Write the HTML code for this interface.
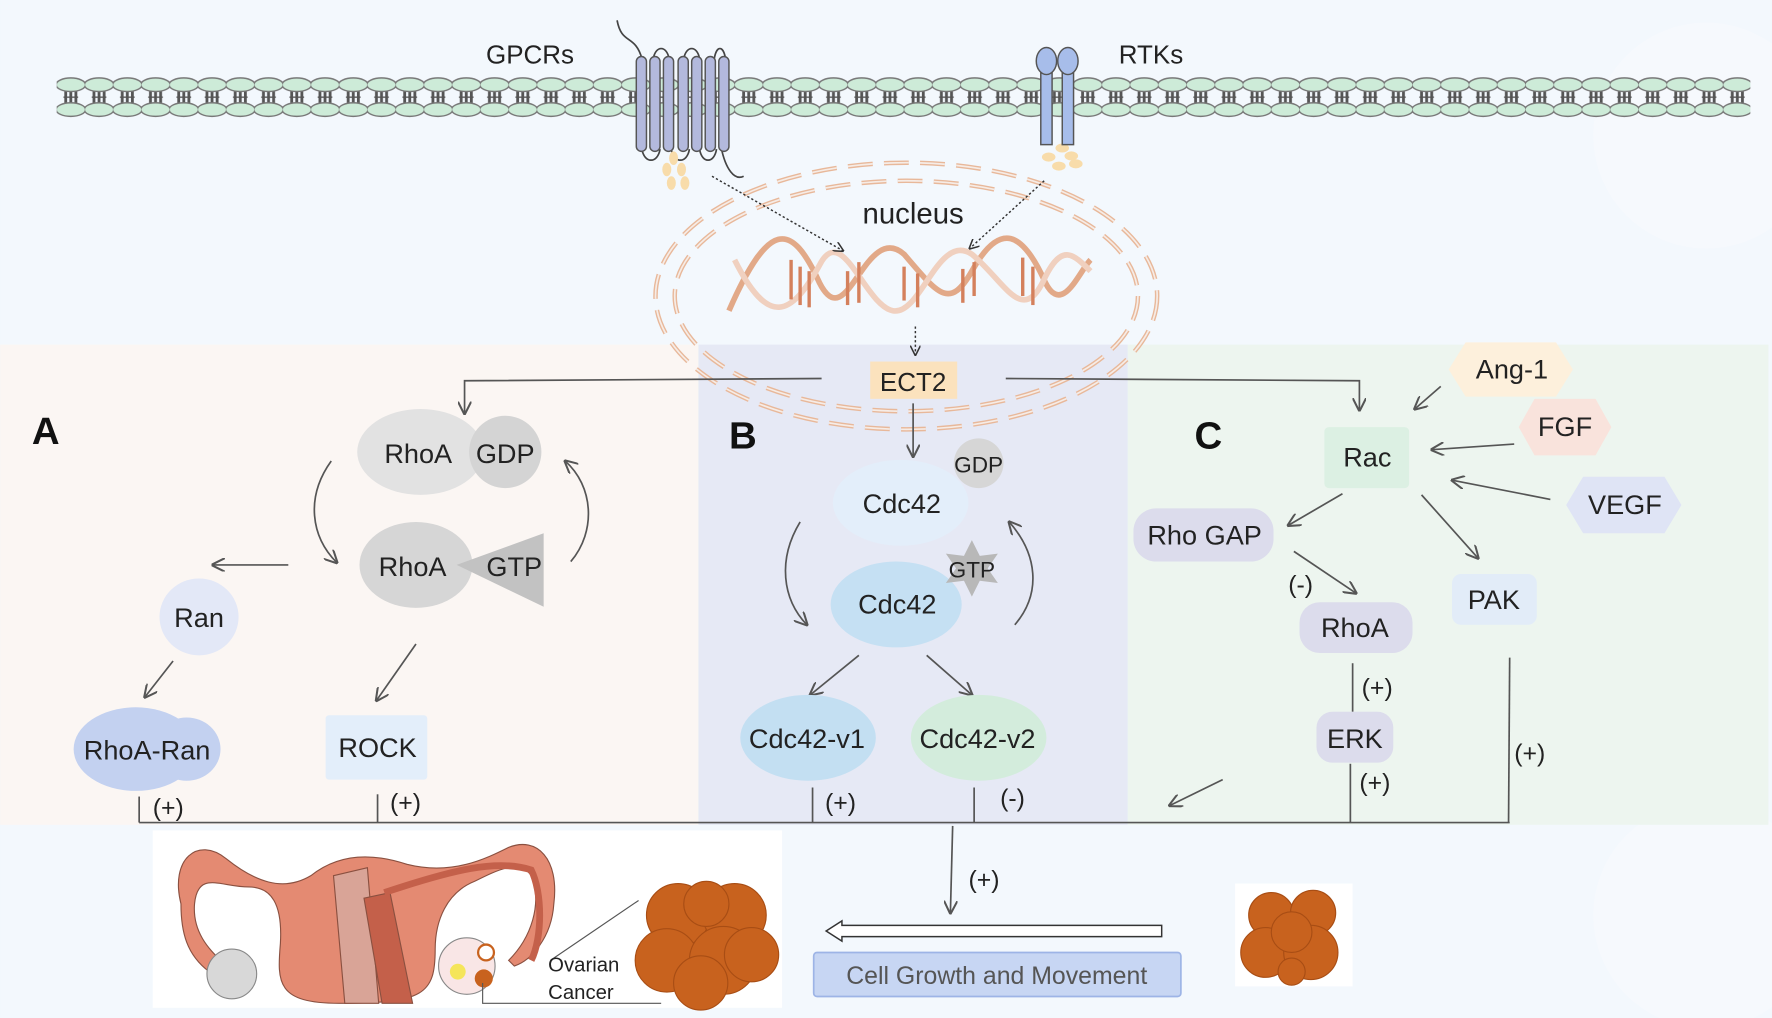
<!DOCTYPE html>
<html><head><meta charset="utf-8"><style>html,body{margin:0;padding:0;background:#f3f8fd}svg{display:block}text{font-family:"Liberation Sans",sans-serif}</style></head><body>
<svg width="1772" height="1018" viewBox="0 0 1568 901" xmlns="http://www.w3.org/2000/svg">
<defs>
<marker id="ar" viewBox="0 0 10 10" refX="9" refY="5" markerWidth="8" markerHeight="8" orient="auto-start-reverse"><path d="M0,0 L10,5 L0,10" fill="none" stroke="#555" stroke-width="1.5"/></marker>
<marker id="ad" viewBox="0 0 10 10" refX="9" refY="5" markerWidth="7" markerHeight="7" orient="auto"><path d="M0,0 L10,5 L0,10" fill="none" stroke="#333" stroke-width="1.5"/></marker>
<pattern id="mem" x="50" y="62" width="25" height="46" patternUnits="userSpaceOnUse">
<line x1="8" y1="18" x2="8" y2="30" stroke="#555" stroke-width="2.5"/><line x1="12.5" y1="18" x2="12.5" y2="30" stroke="#555" stroke-width="2.5"/><line x1="17" y1="18" x2="17" y2="30" stroke="#555" stroke-width="2.5"/>
<line x1="6" y1="24" x2="19" y2="24" stroke="#555" stroke-width="1.2"/>
<ellipse cx="12.5" cy="13" rx="13" ry="6" fill="#cdebd8" stroke="#777" stroke-width="1.3"/>
<ellipse cx="12.5" cy="35" rx="13" ry="6" fill="#cdebd8" stroke="#777" stroke-width="1.3"/>
</pattern>
</defs>
<rect width="1568" height="901" fill="#f3f8fd"/>
<circle cx="1510" cy="120" r="100" fill="#f6f9fd"/>
<circle cx="1510" cy="810" r="100" fill="#f6f9fd"/>
<rect x="0" y="305" width="618" height="425" fill="#fbf6f3"/>
<rect x="618" y="305" width="380" height="425" fill="#e6e9f5"/>
<rect x="998" y="305" width="567" height="425" fill="#edf5ef"/>
<!-- membrane -->
<rect x="50" y="62" width="1499" height="46" fill="url(#mem)"/>
<!-- GPCR -->
<path d="M546,18 C550,40 562,30 568,52" fill="none" stroke="#444" stroke-width="1.5"/>
<g fill="none" stroke="#444" stroke-width="1.5">
<path d="M578,52 C580,40 590,40 592,52"/><path d="M605,52 C607,40 617,40 619,52"/><path d="M632,52 C634,40 640,40 642,52"/>
<path d="M568,132 C570,145 582,145 584,132"/><path d="M594,132 C596,145 608,145 610,132"/><path d="M619,132 C621,145 632,145 634,132"/>
<path d="M638,130 C642,150 650,160 658,156"/>
</g>
<g fill="#b3b9dd" stroke="#555" stroke-width="1.3">
<rect x="563" y="50" width="9" height="84" rx="4.5"/><rect x="575" y="50" width="9" height="84" rx="4.5"/><rect x="587" y="50" width="9" height="84" rx="4.5"/><rect x="600" y="50" width="9" height="84" rx="4.5"/><rect x="612" y="50" width="9" height="84" rx="4.5"/><rect x="624" y="50" width="9" height="84" rx="4.5"/><rect x="636" y="50" width="9" height="84" rx="4.5"/>
</g>
<g fill="#f8dcaa"><ellipse cx="596" cy="140" rx="4" ry="6"/><ellipse cx="590" cy="150" rx="4" ry="6"/><ellipse cx="603" cy="150" rx="4" ry="6"/><ellipse cx="594" cy="162" rx="4" ry="6"/><ellipse cx="606" cy="162" rx="4" ry="6"/>
<ellipse cx="940" cy="131" rx="6" ry="4"/><ellipse cx="928" cy="139" rx="6" ry="4"/><ellipse cx="948" cy="138" rx="6" ry="4"/><ellipse cx="937" cy="147" rx="6" ry="4"/><ellipse cx="952" cy="145" rx="6" ry="4"/></g>
<!-- RTK -->
<g fill="#a7bdea" stroke="#555" stroke-width="1.3">
<rect x="921" y="58" width="10" height="70"/><rect x="940" y="58" width="10" height="70"/>
<ellipse cx="926" cy="54" rx="9" ry="12"/><ellipse cx="945" cy="54" rx="9" ry="12"/>
</g>
<text x="430" y="56" font-size="23" fill="#222">GPCRs</text>
<text x="990" y="56" font-size="23" fill="#222">RTKs</text>
<!-- nucleus -->
<g fill="none" stroke="#e8b89a" stroke-width="4" stroke-dasharray="22,10">
<ellipse cx="802" cy="262" rx="222" ry="118"/>
<ellipse cx="802" cy="262" rx="205" ry="102"/>
</g>
<g fill="none" stroke="#f6ece6" stroke-width="1.5" stroke-dasharray="22,10">
<ellipse cx="802" cy="262" rx="222" ry="118"/>
<ellipse cx="802" cy="262" rx="205" ry="102"/>
</g>
<text x="808" y="198" font-size="26" fill="#222" text-anchor="middle">nucleus</text>
<!-- DNA -->
<path d="M645,275 C680,195 700,195 725,250 C750,300 765,195 800,225 C830,260 840,275 860,240 C885,195 905,205 925,250 C940,280 955,240 965,230" fill="none" stroke="#e2a988" stroke-width="5"/>
<path d="M650,230 C680,290 700,280 725,235 C745,195 765,270 790,275 C815,280 830,205 860,225 C890,250 905,290 925,245 C940,215 950,225 965,240" fill="none" stroke="#f0d0bf" stroke-width="5"/>
<g stroke="#d4805c" stroke-width="3">
<line x1="700" y1="230" x2="700" y2="265"/><line x1="708" y1="236" x2="708" y2="270"/><line x1="716" y1="240" x2="716" y2="272"/><line x1="750" y1="240" x2="750" y2="270"/><line x1="760" y1="232" x2="760" y2="268"/><line x1="800" y1="236" x2="800" y2="266"/><line x1="812" y1="242" x2="812" y2="272"/><line x1="852" y1="238" x2="852" y2="268"/><line x1="862" y1="232" x2="862" y2="262"/><line x1="905" y1="228" x2="905" y2="262"/><line x1="914" y1="236" x2="914" y2="270"/>
</g>
<g stroke="#333" stroke-width="1.3" stroke-dasharray="2,2" fill="none">
<line x1="630" y1="156" x2="746" y2="222" marker-end="url(#ad)"/>
<line x1="924" y1="160" x2="858" y2="220" marker-end="url(#ad)"/>
<line x1="810" y1="289" x2="810" y2="314" marker-end="url(#ad)"/>
</g>
<!-- ECT2 -->
<rect x="770" y="320" width="77" height="33" fill="#fbe2bd"/>
<text x="808" y="346" font-size="23" text-anchor="middle" fill="#222">ECT2</text>
<g stroke="#555" stroke-width="1.5" fill="none" marker-end="url(#ar)">
<polyline points="727,335 411,337 411,366"/>
<polyline points="890,335 1203,337 1203,363"/>
<line x1="808" y1="357" x2="808" y2="404"/>
</g>
<!-- A -->
<text x="28" y="393" font-size="34" font-weight="bold" fill="#111">A</text>
<ellipse cx="372" cy="400" rx="56" ry="38" fill="#e2e2e2"/>
<circle cx="447" cy="400" r="32" fill="#d4d4d4"/>
<text x="370" y="410" font-size="24" text-anchor="middle" fill="#222">RhoA</text>
<text x="447" y="410" font-size="24" text-anchor="middle" fill="#222">GDP</text>
<ellipse cx="368" cy="500" rx="50" ry="38" fill="#d6d6d6"/>
<polygon points="404,500 481,472 481,537" fill="#c2c2c2"/>
<text x="365" y="510" font-size="24" text-anchor="middle" fill="#222">RhoA</text>
<text x="455" y="510" font-size="24" text-anchor="middle" fill="#222">GTP</text>
<g stroke="#555" stroke-width="1.5" fill="none" marker-end="url(#ar)">
<path d="M293,408 C270,440 275,475 298,498"/>
<path d="M505,497 C528,470 525,430 500,408"/>
<line x1="255" y1="500" x2="188" y2="500"/>
<line x1="153" y1="585" x2="128" y2="617"/>
<line x1="368" y1="570" x2="333" y2="620"/>
<path d="M1188,437 L1140,465"/><path d="M1258,438 L1308,494"/><path d="M1145,488 L1200,525"/>
<path d="M1275,342 L1252,362"/><path d="M1340,393 L1267,398"/><path d="M1372,442 L1285,425"/>
<path d="M1082,690 L1035,713"/>
<path d="M708,462 C688,495 692,530 714,553"/>
<path d="M898,553 C922,525 918,490 893,462"/>
<line x1="760" y1="580" x2="717" y2="615"/><line x1="820" y1="580" x2="860" y2="615"/>
<line x1="843" y1="731" x2="841" y2="808"/>
</g>
<ellipse cx="176" cy="546" rx="35" ry="34" fill="#e3e8f7"/>
<text x="176" y="555" font-size="24" text-anchor="middle" fill="#222">Ran</text>
<ellipse cx="120" cy="663" rx="55" ry="37" fill="#c3d1f0"/><ellipse cx="165" cy="663" rx="30" ry="28" fill="#c3d1f0"/>
<text x="130" y="672" font-size="24" text-anchor="middle" fill="#222">RhoA-Ran</text>
<rect x="288" y="633" width="90" height="57" rx="3" fill="#e3eefa"/>
<text x="334" y="670" font-size="24" text-anchor="middle" fill="#222">ROCK</text>
<g stroke="#555" stroke-width="1.5">
<line x1="123" y1="705" x2="123" y2="728"/><line x1="334" y1="703" x2="334" y2="728"/>
<line x1="719" y1="697" x2="719" y2="728"/><line x1="862" y1="697" x2="862" y2="728"/>
<line x1="1197" y1="587" x2="1197" y2="630"/><line x1="1195" y1="676" x2="1195" y2="728"/>
<line x1="1336" y1="582" x2="1335" y2="728"/>
<line x1="123" y1="728" x2="1336" y2="728"/>
</g>
<g font-size="22" fill="#222">
<text x="135" y="722">(+)</text><text x="345" y="718">(+)</text><text x="730" y="718">(+)</text><text x="885" y="714">(-)</text>
<text x="1140" y="525">(-)</text><text x="1205" y="616">(+)</text><text x="1203" y="700">(+)</text><text x="1340" y="674">(+)</text>
<text x="857" y="786">(+)</text>
</g>
<!-- B -->
<text x="645" y="397" font-size="34" font-weight="bold" fill="#111">B</text>
<ellipse cx="797" cy="445" rx="60" ry="38" fill="#e3eefa"/>
<circle cx="866" cy="410" r="22" fill="#d6d6d6"/>
<text x="866" y="418" font-size="20" text-anchor="middle" fill="#222">GDP</text>
<text x="798" y="454" font-size="24" text-anchor="middle" fill="#222">Cdc42</text>
<ellipse cx="793" cy="535" rx="58" ry="38" fill="#c5e0f3"/>
<polygon points="860,478 867,492 883,490 874,503 883,516 867,514 860,528 853,514 837,516 846,503 837,490 853,492" fill="#b8b8b8"/>
<text x="860" y="511" font-size="20" text-anchor="middle" fill="#222">GTP</text>
<text x="794" y="543" font-size="24" text-anchor="middle" fill="#222">Cdc42</text>
<ellipse cx="715" cy="653" rx="60" ry="38" fill="#c3dff2"/>
<ellipse cx="866" cy="653" rx="60" ry="38" fill="#d3ecdc"/>
<text x="714" y="662" font-size="24" text-anchor="middle" fill="#222">Cdc42-v1</text>
<text x="865" y="662" font-size="24" text-anchor="middle" fill="#222">Cdc42-v2</text>
<!-- C -->
<text x="1057" y="397" font-size="34" font-weight="bold" fill="#111">C</text>
<rect x="1172" y="378" width="75" height="54" rx="4" fill="#dcf0e3"/>
<text x="1210" y="413" font-size="24" text-anchor="middle" fill="#222">Rac</text>
<polygon points="1282,327 1297,303 1377,303 1392,327 1377,351 1297,351" fill="#fdf0dc"/>
<text x="1338" y="335" font-size="24" text-anchor="middle" fill="#222">Ang-1</text>
<polygon points="1344,378 1358,353 1412,353 1426,378 1412,403 1358,403" fill="#f9e3dc"/>
<text x="1385" y="386" font-size="24" text-anchor="middle" fill="#222">FGF</text>
<polygon points="1386,447 1401,422 1473,422 1488,447 1473,472 1401,472" fill="#dfe4f5"/>
<text x="1438" y="455" font-size="24" text-anchor="middle" fill="#222">VEGF</text>
<rect x="1003" y="450" width="124" height="47" rx="20" fill="#dcdcec"/>
<text x="1066" y="482" font-size="24" text-anchor="middle" fill="#222">Rho GAP</text>
<rect x="1285" y="508" width="75" height="45" rx="8" fill="#e2ecf8"/>
<text x="1322" y="539" font-size="24" text-anchor="middle" fill="#222">PAK</text>
<rect x="1150" y="533" width="100" height="45" rx="18" fill="#dcdcec"/>
<text x="1199" y="564" font-size="24" text-anchor="middle" fill="#222">RhoA</text>
<rect x="1165" y="630" width="68" height="45" rx="14" fill="#dcdcec"/>
<text x="1199" y="662" font-size="24" text-anchor="middle" fill="#222">ERK</text>
<!-- bottom -->
<rect x="135" y="735" width="557" height="157" fill="#fff"/>
<g stroke="#8a5040" stroke-width="1">
<path d="M160,800 C150,760 175,740 200,760 C225,780 250,790 275,775 C300,755 330,755 360,765 C400,775 430,760 450,750 C475,740 495,760 490,800 C488,830 470,850 455,855 L450,850 C470,830 480,800 470,775 C460,760 440,770 420,780 C395,790 385,815 385,840 C385,880 375,888 300,888 C245,888 245,870 248,835 C250,800 240,785 220,785 C195,785 175,770 172,800 C170,825 185,840 195,850 L185,860 C165,845 160,825 160,800 Z" fill="#e48a72"/>
<path d="M295,775 L325,768 L335,888 L305,888 Z" fill="#d9a497"/>
<path d="M322,795 L345,790 L365,888 L338,888 Z" fill="#c4604a"/>
<path d="M340,790 C400,770 440,760 470,770 C480,790 480,830 470,850" fill="none" stroke="#c4604a" stroke-width="6"/>
</g>
<circle cx="205" cy="862" r="22" fill="#d8d8d8" stroke="#888"/>
<circle cx="413" cy="855" r="25" fill="#f9e6e6" stroke="#888"/>
<circle cx="405" cy="860" r="7" fill="#f5e55a"/>
<circle cx="428" cy="866" r="8" fill="#c8621e"/>
<circle cx="430" cy="843" r="7" fill="#fff" stroke="#c8621e" stroke-width="2"/>
<line x1="565" y1="797" x2="487" y2="850" stroke="#555" stroke-width="1"/>
<polyline points="427,870 427,888 585,888" fill="none" stroke="#555" stroke-width="1"/>
<g fill="#c8621e" stroke="#a84d14" stroke-width="1">
<circle cx="600" cy="810" r="28"/><circle cx="650" cy="810" r="28"/><circle cx="590" cy="850" r="28"/><circle cx="640" cy="850" r="30"/><circle cx="665" cy="845" r="24"/><circle cx="620" cy="870" r="24"/><circle cx="625" cy="800" r="20"/>
</g>
<text x="485" y="860" font-size="18" fill="#222">Ovarian</text>
<text x="485" y="884" font-size="18" fill="#222">Cancer</text>
<rect x="1093" y="782" width="104" height="91" fill="#fff"/>
<g fill="#c8621e" stroke="#a84d14" stroke-width="1">
<circle cx="1125" cy="810" r="20"/><circle cx="1162" cy="808" r="20"/><circle cx="1120" cy="843" r="22"/><circle cx="1160" cy="843" r="24"/><circle cx="1143" cy="860" r="12"/><circle cx="1143" cy="825" r="18"/>
</g>
<path d="M1028,819 L745,819 L745,815 L731,824 L745,833 L745,829 L1028,829 Z" fill="#fff" stroke="#333" stroke-width="1.3"/>
<rect x="720" y="843" width="325" height="39" rx="3" fill="#c7d6f3" stroke="#9db4e6" stroke-width="1.5"/>
<text x="882" y="871" font-size="22" text-anchor="middle" fill="#555">Cell Growth and Movement</text>
</svg>
</body></html>
